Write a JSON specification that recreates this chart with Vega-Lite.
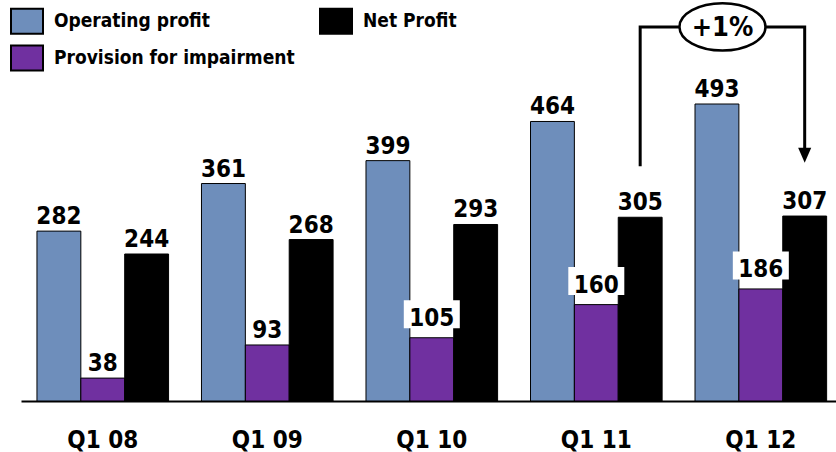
{
  "$schema": "https://vega.github.io/schema/vega-lite/v6.json",
  "autosize": {"type": "none"},
  "padding": {"left": 21, "top": 1, "right": 0, "bottom": 51},
  "width": 815,
  "height": 400,
  "background": "white",
  "config": {"view": {"stroke": null}, "font": "DejaVu Sans Condensed"},
  "datasets": {
    "bars": [
      {"quarter": "Q1 08", "series": "Operating profit", "value": 282},
      {"quarter": "Q1 08", "series": "Provision for impairment", "value": 38},
      {"quarter": "Q1 08", "series": "Net Profit", "value": 244},
      {"quarter": "Q1 09", "series": "Operating profit", "value": 361},
      {"quarter": "Q1 09", "series": "Provision for impairment", "value": 93},
      {"quarter": "Q1 09", "series": "Net Profit", "value": 268},
      {"quarter": "Q1 10", "series": "Operating profit", "value": 399},
      {"quarter": "Q1 10", "series": "Provision for impairment", "value": 105},
      {"quarter": "Q1 10", "series": "Net Profit", "value": 293},
      {"quarter": "Q1 11", "series": "Operating profit", "value": 464},
      {"quarter": "Q1 11", "series": "Provision for impairment", "value": 160},
      {"quarter": "Q1 11", "series": "Net Profit", "value": 305},
      {"quarter": "Q1 12", "series": "Operating profit", "value": 493},
      {"quarter": "Q1 12", "series": "Provision for impairment", "value": 186},
      {"quarter": "Q1 12", "series": "Net Profit", "value": 307}
    ],
    "bracket": [
      {"quarter": "Q1 11", "y": 392, "step": 1},
      {"quarter": "Q1 11", "y": 621, "step": 2},
      {"quarter": "Q1 12", "y": 621, "step": 3},
      {"quarter": "Q1 12", "y": 408, "step": 4}
    ],
    "arrow": [{"quarter": "Q1 12", "y": 408}],
    "badge": [{"quarter": "Q1 12", "y": 621, "label": "+1%"}]
  },
  "layer": [
    {
      "data": {"name": "bars"},
      "mark": {"type": "bar", "stroke": "black", "strokeWidth": 1},
      "encoding": {
        "x": {
          "field": "quarter", "type": "nominal",
          "scale": {"domain": ["Q1 08", "Q1 09", "Q1 10", "Q1 11", "Q1 12"], "paddingInner": 0.2, "paddingOuter": 0.077, "align": 0.63},
          "axis": {"title": null, "ticks": false, "tickSize": 0, "domainColor": "black", "domainWidth": 2, "labelFontSize": 24, "labelFontWeight": "bold", "labelColor": "black", "labelPadding": 27, "labelAngle": 0, "labelFont": "DejaVu Sans Condensed"}
        },
        "xOffset": {
          "field": "series", "type": "nominal",
          "scale": {"domain": ["Operating profit", "Provision for impairment", "Net Profit"], "paddingInner": 0, "paddingOuter": 0}
        },
        "y": {"field": "value", "type": "quantitative", "scale": {"domain": [0, 664], "nice": false}, "axis": null},
        "color": {
          "field": "series", "type": "nominal",
          "scale": {"domain": ["Operating profit", "Provision for impairment", "Net Profit"], "range": ["#6E8EBB", "#7030A0", "#000000"]},
          "legend": {
            "title": null, "orient": "none", "legendX": -11, "legendY": 3,
            "direction": "vertical",
            "columns": 2, "columnPadding": 21, "rowPadding": 3, "padding": 0,
            "symbolType": "M-1,-0.78H1V0.78H-1Z", "symbolSize": 1024,
            "symbolStrokeColor": "black", "symbolStrokeWidth": 2, "symbolOpacity": 1,
            "labelFontSize": 19, "labelFontWeight": "bold", "labelColor": "black", "labelOffset": 10, "labelLimit": 400,
            "labelFont": "DejaVu Sans Condensed"
          }
        }
      }
    },
    {
      "data": {"name": "bars"},
      "transform": [{"filter": "datum.series === 'Provision for impairment' && datum.value >= 100"}],
      "mark": {"type": "point", "shape": "M-1,-0.5H1V0.5H-1Z", "size": 3136, "filled": true, "fill": "white", "opacity": 1, "yOffset": -23.5},
      "encoding": {
        "x": {"field": "quarter", "type": "nominal"},
        "xOffset": {"field": "series", "type": "nominal", "scale": {"domain": ["Operating profit", "Provision for impairment", "Net Profit"]}},
        "y": {"field": "value", "type": "quantitative"}
      }
    },
    {
      "data": {"name": "bars"},
      "transform": [{"filter": "!(datum.series === 'Provision for impairment' && datum.value >= 100)"}],
      "mark": {"type": "text", "baseline": "alphabetic", "dy": -7, "fontSize": 24, "fontWeight": "bold", "color": "black"},
      "encoding": {
        "x": {"field": "quarter", "type": "nominal"},
        "xOffset": {"field": "series", "type": "nominal", "scale": {"domain": ["Operating profit", "Provision for impairment", "Net Profit"]}},
        "y": {"field": "value", "type": "quantitative"},
        "text": {"field": "value", "type": "quantitative"}
      }
    },
    {
      "data": {"name": "bars"},
      "transform": [{"filter": "datum.series === 'Provision for impairment' && datum.value >= 100"}],
      "mark": {"type": "text", "baseline": "alphabetic", "dy": -12, "fontSize": 24, "fontWeight": "bold", "color": "black"},
      "encoding": {
        "x": {"field": "quarter", "type": "nominal"},
        "xOffset": {"field": "series", "type": "nominal", "scale": {"domain": ["Operating profit", "Provision for impairment", "Net Profit"]}},
        "y": {"field": "value", "type": "quantitative"},
        "text": {"field": "value", "type": "quantitative"}
      }
    },
    {
      "data": {"name": "bracket"},
      "mark": {"type": "line", "color": "black", "strokeWidth": 3, "strokeCap": "square"},
      "encoding": {
        "x": {"field": "quarter", "type": "nominal", "bandPosition": 0.8333},
        "y": {"field": "y", "type": "quantitative"},
        "order": {"field": "step", "type": "quantitative"}
      }
    },
    {
      "data": {"name": "arrow"},
      "mark": {"type": "point", "shape": "M-0.87,-1L0.87,-1L0,1Z", "size": 225, "filled": true, "fill": "black", "opacity": 1},
      "encoding": {
        "x": {"field": "quarter", "type": "nominal", "bandPosition": 0.8333},
        "y": {"field": "y", "type": "quantitative"}
      }
    },
    {
      "data": {"name": "badge"},
      "mark": {"type": "point", "shape": "M-1,0A1,0.55,0,1,1,1,0A1,0.55,0,1,1,-1,0Z", "size": 7396, "filled": true, "fill": "white", "stroke": "black", "strokeWidth": 2.5, "opacity": 1},
      "encoding": {
        "x": {"field": "quarter", "type": "nominal", "bandPosition": 0.2086},
        "y": {"field": "y", "type": "quantitative"}
      }
    },
    {
      "data": {"name": "badge"},
      "mark": {"type": "text", "baseline": "middle", "fontSize": 27, "fontWeight": "bold", "color": "black", "dy": 1},
      "encoding": {
        "x": {"field": "quarter", "type": "nominal", "bandPosition": 0.2086},
        "y": {"field": "y", "type": "quantitative"},
        "text": {"field": "label", "type": "nominal"}
      }
    }
  ]
}
